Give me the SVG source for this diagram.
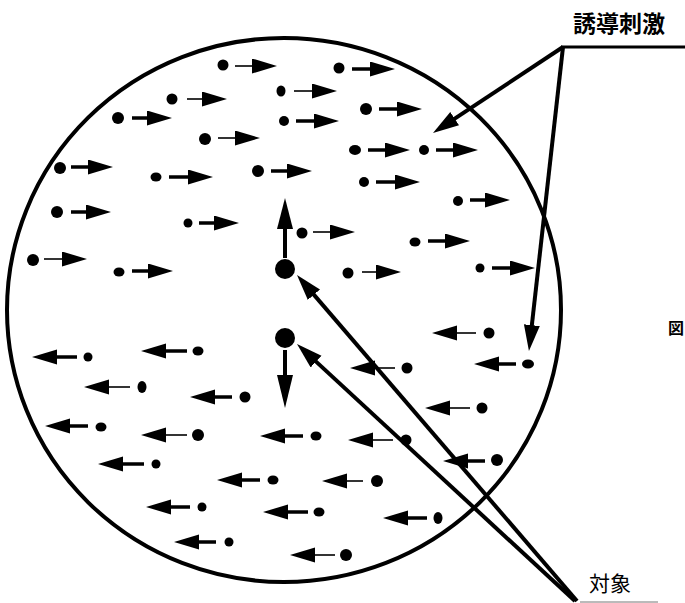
<svg xmlns="http://www.w3.org/2000/svg" width="685" height="603" viewBox="0 0 685 603">
<style>
.bg{fill:#fff}
.ring{fill:none;stroke:#000;stroke-width:4}
.dot{fill:#000}
.a{stroke:#000;stroke-width:3.5;fill:none;marker-end:url(#sh)}
.t{stroke-width:1.6}
.big{stroke:#000;stroke-width:4;fill:none;marker-end:url(#bh)}
.lbl{font-family:"Noto Sans CJK JP","Noto Sans",sans-serif;fill:#000}
</style>
<defs>
<marker id="sh" markerUnits="userSpaceOnUse" markerWidth="26" markerHeight="16" refX="0" refY="7.5" orient="auto" viewBox="0 0 26 16">
<path d="M0,0 L25,7.5 L0,15 z" fill="#000"/>
</marker>
<marker id="bh" markerUnits="userSpaceOnUse" markerWidth="28" markerHeight="18" refX="14" refY="8" orient="auto" viewBox="0 0 28 18">
<path d="M0,0 L26,8 L0,16 z" fill="#000"/>
</marker>
</defs>
<rect class="bg" width="685" height="603"/>
<g id="field">
<ellipse class="ring" cx="284" cy="310" rx="277" ry="272"/>
</g>
<g id="stimuli">
<circle class="dot" cx="223" cy="65" r="5.5"/><line class="a t" x1="235" y1="66" x2="252" y2="66"/>
<circle class="dot" cx="339" cy="68" r="5.5"/><line class="a" x1="352" y1="69" x2="370" y2="69"/>
<circle class="dot" cx="172" cy="99" r="5.5"/><line class="a t" x1="187" y1="99" x2="202" y2="99"/>
<ellipse class="dot" cx="281" cy="91" rx="4.5" ry="5.5"/><line class="a t" x1="294" y1="91" x2="312" y2="91"/>
<circle class="dot" cx="118" cy="118" r="6"/><line class="a" x1="132" y1="118" x2="147" y2="118"/>
<circle class="dot" cx="284" cy="121" r="5"/><line class="a" x1="296" y1="121" x2="314" y2="121"/>
<circle class="dot" cx="366" cy="109" r="6"/><line class="a" x1="379" y1="109" x2="397" y2="109"/>
<circle class="dot" cx="205" cy="139" r="6"/><line class="a t" x1="218" y1="138" x2="235" y2="138"/>
<ellipse class="dot" cx="355" cy="150" rx="6" ry="5"/><line class="a" x1="368" y1="150" x2="385" y2="150"/>
<circle class="dot" cx="424" cy="150" r="5"/><line class="a" x1="436" y1="150" x2="453" y2="150"/>
<circle class="dot" cx="60" cy="168" r="6"/><line class="a" x1="71" y1="167" x2="88" y2="167"/>
<ellipse class="dot" cx="156" cy="177" rx="5.5" ry="4.5"/><line class="a" x1="169" y1="177" x2="188" y2="177"/>
<circle class="dot" cx="258" cy="171" r="6"/><line class="a" x1="271" y1="171" x2="287" y2="171"/>
<circle class="dot" cx="364" cy="182" r="5"/><line class="a" x1="376" y1="182" x2="395" y2="182"/>
<circle class="dot" cx="57" cy="212" r="6"/><line class="a" x1="71" y1="212" x2="86" y2="212"/>
<circle class="dot" cx="188" cy="223" r="4.5"/><line class="a" x1="199" y1="223" x2="214" y2="223"/>
<circle class="dot" cx="458" cy="201" r="5"/><line class="a" x1="470" y1="200" x2="485" y2="200"/>
<circle class="dot" cx="302" cy="233" r="5.5"/><line class="a t" x1="313" y1="232" x2="330" y2="232"/>
<ellipse class="dot" cx="415" cy="242" rx="5.5" ry="4.5"/><line class="a" x1="428" y1="241" x2="445" y2="241"/>
<circle class="dot" cx="33" cy="260" r="6"/><line class="a t" x1="44" y1="259" x2="62" y2="259"/>
<ellipse class="dot" cx="119" cy="272" rx="5.5" ry="4.5"/><line class="a" x1="132" y1="271" x2="148" y2="271"/>
<circle class="dot" cx="348" cy="273" r="5.5"/><line class="a t" x1="362" y1="272" x2="376" y2="272"/>
<circle class="dot" cx="480" cy="268" r="4.5"/><line class="a" x1="492" y1="268" x2="510" y2="268"/>
<circle class="dot" cx="489" cy="333" r="5.5"/><line class="a t" x1="476" y1="333" x2="457" y2="333"/>
<ellipse class="dot" cx="528" cy="364" rx="6" ry="4.5"/><line class="a" x1="516" y1="364" x2="499" y2="364"/>
<circle class="dot" cx="88" cy="357" r="4.5"/><line class="a" x1="77" y1="357" x2="57" y2="357"/>
<ellipse class="dot" cx="198" cy="351" rx="5.5" ry="4.5"/><line class="a" x1="187" y1="351" x2="166" y2="351"/>
<circle class="dot" cx="407" cy="368" r="5.5"/><line class="a t" x1="395" y1="368" x2="375" y2="368"/>
<ellipse class="dot" cx="142" cy="387" rx="4.5" ry="6"/><line class="a t" x1="130" y1="387" x2="109" y2="387"/>
<circle class="dot" cx="245" cy="397" r="5.5"/><line class="a" x1="232" y1="397" x2="215" y2="397"/>
<circle class="dot" cx="482" cy="408" r="5.5"/><line class="a t" x1="470" y1="408" x2="450" y2="408"/>
<ellipse class="dot" cx="101" cy="427" rx="5.5" ry="4.5"/><line class="a" x1="88" y1="426" x2="70" y2="426"/>
<circle class="dot" cx="198" cy="435" r="6"/><line class="a t" x1="187" y1="435" x2="166" y2="435"/>
<ellipse class="dot" cx="316" cy="436" rx="5.5" ry="4.5"/><line class="a" x1="303" y1="436" x2="285" y2="436"/>
<circle class="dot" cx="406" cy="440" r="5.5"/><line class="a t" x1="393" y1="440" x2="373" y2="440"/>
<circle class="dot" cx="497" cy="460" r="6"/><line class="a" x1="485" y1="461" x2="468" y2="461"/>
<circle class="dot" cx="156" cy="464" r="4.5"/><line class="a" x1="144" y1="464" x2="123" y2="464"/>
<ellipse class="dot" cx="273" cy="480" rx="5.5" ry="4.5"/><line class="a" x1="260" y1="480" x2="242" y2="480"/>
<circle class="dot" cx="377" cy="481" r="6"/><line class="a t" x1="363" y1="481" x2="347" y2="481"/>
<circle class="dot" cx="202" cy="507" r="4.5"/><line class="a" x1="190" y1="507" x2="171" y2="507"/>
<ellipse class="dot" cx="319" cy="512" rx="5.5" ry="4.5"/><line class="a" x1="308" y1="512" x2="288" y2="512"/>
<ellipse class="dot" cx="438" cy="518" rx="4.5" ry="6"/><line class="a" x1="427" y1="518" x2="408" y2="518"/>
<circle class="dot" cx="229" cy="542" r="4.5"/><line class="a" x1="216" y1="542" x2="199" y2="542"/>
<circle class="dot" cx="346" cy="555" r="6"/><line class="a t" x1="335" y1="555" x2="315" y2="555"/>
</g>
<g id="targets">
<circle class="dot" cx="285" cy="269" r="10"/>
<line x1="285" y1="258" x2="285" y2="226" stroke="#000" stroke-width="4"/>
<polygon points="277,229 293,229 285,198" fill="#000"/>
<circle class="dot" cx="285" cy="338" r="10"/>
<line x1="285" y1="350" x2="285" y2="378" stroke="#000" stroke-width="4"/>
<polygon points="277,375 293,375 285,408" fill="#000"/>
</g>
<g id="label-stimulus">
<text class="lbl" x="573" y="32" font-size="23" font-weight="bold">誘導刺激</text>
</g>
<g id="label-target">
<text class="lbl" x="589" y="591" font-size="21">対象</text>
</g>
<g id="label-fig">
<text class="lbl" x="668" y="334" font-size="16" font-weight="bold">図</text>
</g>
<g id="connectors">
<line x1="561" y1="47" x2="685" y2="47" stroke="#000" stroke-width="3"/>
<line class="big" x1="563" y1="47" x2="443" y2="126.4"/>
<line class="big" x1="563" y1="47" x2="530.3" y2="339.1"/>
<line class="big" x1="577" y1="601" x2="304.8" y2="284.1"/>
<line class="big" x1="575" y1="601" x2="305.8" y2="352.1"/>
<line x1="580" y1="602" x2="658" y2="602" stroke="#777" stroke-width="1"/>
</g>
</svg>
